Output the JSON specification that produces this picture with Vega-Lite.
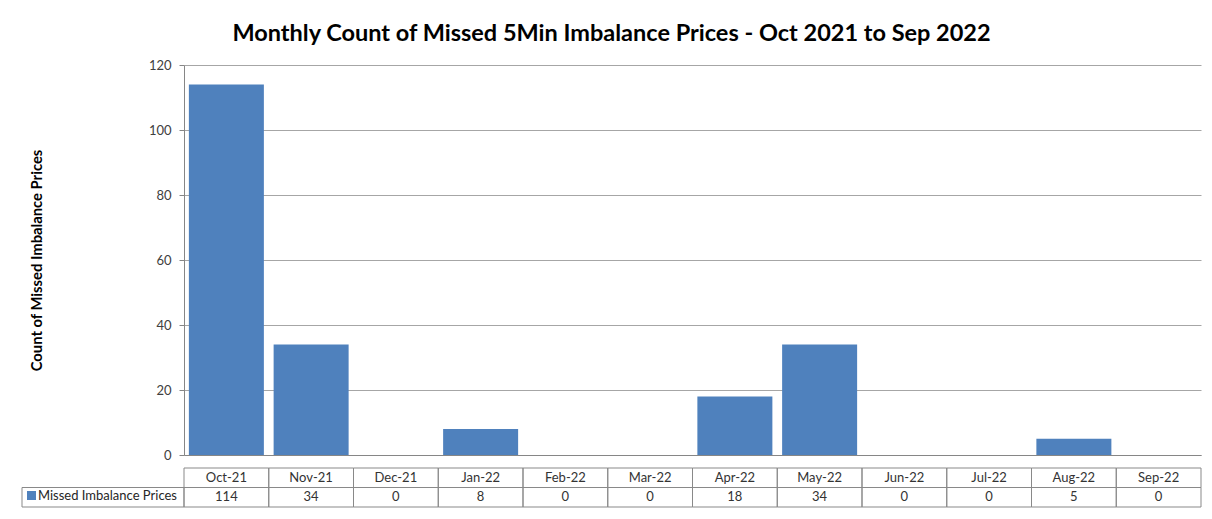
{
  "$schema": "https://vega.github.io/schema/vega-lite/v6.json",
  "background": "white",
  "padding": {"left": 21, "top": 21, "right": 0, "bottom": 0},
  "title": {
    "text": "Monthly Count of Missed 5Min Imbalance Prices - Oct 2021 to Sep 2022",
    "font": "Lato",
    "fontSize": 23.5,
    "fontWeight": "bold",
    "color": "#000000",
    "anchor": "middle",
    "offset": 14
  },
  "datasets": {
    "missed": [
      {"month": "Oct-21", "count": 114},
      {"month": "Nov-21", "count": 34},
      {"month": "Dec-21", "count": 0},
      {"month": "Jan-22", "count": 8},
      {"month": "Feb-22", "count": 0},
      {"month": "Mar-22", "count": 0},
      {"month": "Apr-22", "count": 18},
      {"month": "May-22", "count": 34},
      {"month": "Jun-22", "count": 0},
      {"month": "Jul-22", "count": 0},
      {"month": "Aug-22", "count": 5},
      {"month": "Sep-22", "count": 0}
    ]
  },
  "columns": 2,
  "align": "each",
  "spacing": {"row": 13, "column": 0},
  "bounds": "flush",
  "concat": [
    {
      "width": 162,
      "height": 390,
      "data": {"values": [{"k": 1}]},
      "mark": {"type": "rect", "opacity": 0},
      "encoding": {
        "x": {"value": 0},
        "x2": {"value": "width"},
        "y": {"value": 0},
        "y2": {"value": "height"}
      }
    },
    {
      "width": 1017,
      "height": 390,
      "data": {"name": "missed"},
      "mark": {"type": "bar"},
      "encoding": {
        "x": {
          "field": "month",
          "type": "ordinal",
          "sort": null,
          "scale": {"paddingInner": 0.115, "paddingOuter": 0.0575},
          "axis": {"labels": false, "ticks": false, "title": null, "domainColor": "#868686", "domainWidth": 1, "grid": false}
        },
        "y": {
          "field": "count",
          "type": "quantitative",
          "scale": {"domain": [0, 120], "nice": false},
          "axis": {
            "values": [0, 20, 40, 60, 80, 100, 120],
            "grid": true,
            "gridColor": "#a6a6a6",
            "gridWidth": 1,
            "domainColor": "#868686",
            "tickColor": "#868686",
            "tickSize": 5,
            "labelFont": "Lato",
            "labelFontSize": 13,
            "labelColor": "#404040",
            "labelPadding": 8,
            "title": "Count of Missed Imbalance Prices",
            "titleFont": "Lato",
            "titleFontSize": 14.8,
            "titleFontWeight": "bold",
            "titleColor": "#000000",
            "titlePadding": 104
          }
        },
        "color": {
          "datum": "Missed Imbalance Prices",
          "type": "nominal",
          "scale": {"range": ["#4F81BD"]},
          "legend": {
            "orient": "none",
            "legendX": 3,
            "legendY": 424,
            "title": null,
            "padding": 0,
            "symbolType": "square",
            "symbolSize": 81,
            "symbolStrokeWidth": 0,
            "labelFont": "Lato",
            "labelFontSize": 13,
            "labelColor": "#262626",
            "labelOffset": 0
          }
        }
      }
    },
    {
      "width": 162,
      "height": 39,
      "data": {"values": [{"row": "v"}]},
      "mark": {"type": "rect", "fillOpacity": 0, "stroke": "#898989", "strokeWidth": 1},
      "encoding": {
        "y": {"field": "row", "type": "nominal", "scale": {"domain": ["m", "v"], "paddingInner": 0, "paddingOuter": 0}, "axis": null},
        "x": {"value": 0},
        "x2": {"value": "width"}
      }
    },
    {
      "width": 1017,
      "height": 39,
      "data": {"name": "missed"},
      "encoding": {
        "x": {"field": "month", "type": "ordinal", "sort": null, "scale": {"paddingInner": 0, "paddingOuter": 0}, "axis": null}
      },
      "layer": [
        {
          "mark": {"type": "rect", "fillOpacity": 0, "stroke": "#898989", "strokeWidth": 1},
          "encoding": {"y": {"datum": "m", "type": "nominal", "scale": {"domain": ["m", "v"], "paddingInner": 0, "paddingOuter": 0}, "axis": null}}
        },
        {
          "mark": {"type": "rect", "fillOpacity": 0, "stroke": "#898989", "strokeWidth": 1},
          "encoding": {"y": {"datum": "v", "type": "nominal"}}
        },
        {
          "mark": {"type": "text", "font": "Lato", "fontSize": 13, "color": "#333333"},
          "encoding": {"y": {"datum": "m", "type": "nominal"}, "text": {"field": "month"}}
        },
        {
          "mark": {"type": "text", "font": "Lato", "fontSize": 13, "color": "#333333"},
          "encoding": {"y": {"datum": "v", "type": "nominal"}, "text": {"field": "count"}}
        }
      ]
    }
  ],
  "config": {"view": {"stroke": null}, "font": "Lato"}
}
